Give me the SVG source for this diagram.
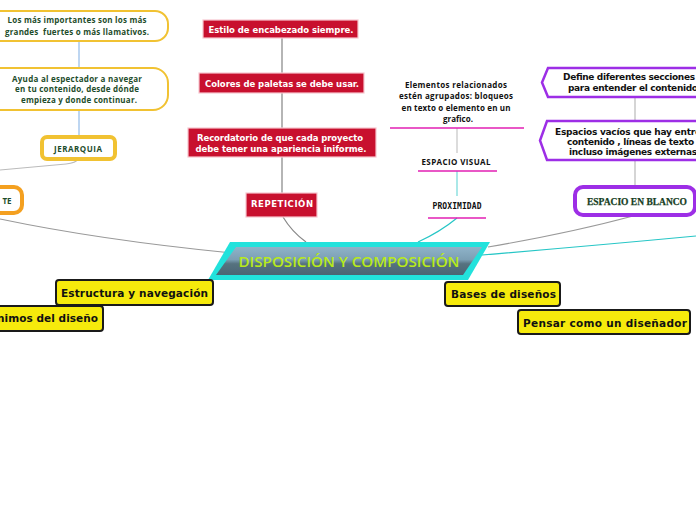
<svg xmlns="http://www.w3.org/2000/svg" width="696" height="520" viewBox="0 0 696 520">
<style>
.gold{fill:#fff;stroke:#f1c232}
.gtxt{font-family:"Open Sans","Noto Sans",sans-serif;font-weight:bold;font-size:8px;fill:#1e4d2b;text-anchor:middle}
.red{fill:#c8102e;stroke:#f7c6cf;stroke-width:1.2}
.rtxt{font-family:"DejaVu Sans",sans-serif;font-weight:bold;font-size:8.5px;fill:#fff;text-anchor:middle}
.btxt{font-family:"Open Sans","Noto Sans",sans-serif;font-weight:bold;font-size:8px;fill:#111;text-anchor:middle}
.mag{stroke:#e21fb3;stroke-width:1.5}
.pur{fill:#fff;stroke:#9d2ee6;stroke-width:2.5}
.ptxt{font-family:"DejaVu Sans",sans-serif;font-weight:bold;font-size:9px;fill:#111}
.yel{fill:#f6ea0c;stroke:#1a1a1a;stroke-width:2}
.ytxt{font-family:"DejaVu Sans",sans-serif;font-weight:bold;font-size:10.5px;fill:#111}
.c{fill:none}
</style>
<defs>
<linearGradient id="cg" x1="0" y1="0" x2="0" y2="1">
<stop offset="0" stop-color="#8fb3c9"/>
<stop offset="0.45" stop-color="#7c9fb4"/>
<stop offset="0.6" stop-color="#56727f"/>
<stop offset="1" stop-color="#4a6574"/>
</linearGradient>
</defs>
<rect width="696" height="520" fill="#fff"/>

<g id="connectors" class="c">
<line x1="79" y1="41" x2="79" y2="68" stroke="#a9c8ec" stroke-width="1.5"/>
<line x1="79" y1="110" x2="79" y2="136" stroke="#a9c8ec" stroke-width="1.5"/>
<path d="M78,159 Q76,163 66,164 L0,170" stroke="#bbb" stroke-width="1.2"/>
<path d="M0,219 Q100,240 232,253" stroke="#999" stroke-width="1.2"/>
<line x1="282" y1="38" x2="282" y2="73" stroke="#b5b5b5" stroke-width="2"/>
<line x1="282" y1="93" x2="282" y2="128" stroke="#b5b5b5" stroke-width="2"/>
<line x1="282" y1="157" x2="282" y2="193" stroke="#b5b5b5" stroke-width="2"/>
<path d="M283,217 Q292,232 306,242" stroke="#888" stroke-width="1.2"/>
<line x1="457" y1="128" x2="457" y2="153" stroke="#d0d0d0" stroke-width="1.5"/>
<line x1="457" y1="171" x2="457" y2="196" stroke="#8ee0e0" stroke-width="1.5"/>
<path d="M457,218 Q440,232 418,242" stroke="#26c6c6" stroke-width="1.2"/>
<line x1="635" y1="97" x2="635" y2="121" stroke="#d5d5d5" stroke-width="2"/>
<line x1="635" y1="160" x2="635" y2="186" stroke="#d5d5d5" stroke-width="2"/>
<path d="M633,216 Q570,233 488,247" stroke="#999" stroke-width="1.2"/>
<path d="M696,236 Q590,246 470,256" stroke="#26c6c6" stroke-width="1.2"/>
</g>

<g id="n-importantes">
<rect class="gold" x="-14" y="11" width="182" height="30" rx="13" stroke-width="2"/>
<text class="gtxt" x="77" y="23" textLength="139">Los más importantes son los más</text>
<text class="gtxt" x="77" y="35" textLength="144" xml:space="preserve">grandes  fuertes o más llamativos.</text>
</g>
<g id="n-ayuda">
<rect class="gold" x="-14" y="68" width="182" height="42" rx="15" stroke-width="2"/>
<text class="gtxt" x="77" y="82" textLength="130">Ayuda al espectador a navegar</text>
<text class="gtxt" x="77" y="92" textLength="124">en tu contenido, desde dónde</text>
<text class="gtxt" x="79" y="103" textLength="116">empieza y donde continuar.</text>
</g>
<g id="n-jerarquia">
<rect class="gold" x="42" y="137" width="73" height="22" rx="5" stroke-width="4"/>
<text class="gtxt" x="78" y="152" font-size="9px" textLength="48">JERARQUIA</text>
</g>
<g id="n-te">
<rect x="-30" y="187" width="52" height="26" rx="8" fill="#fff" stroke="#f4a020" stroke-width="4"/>
<text class="gtxt" x="7" y="204">TE</text>
</g>

<g id="n-estilo">
<rect class="red" x="203" y="20" width="155" height="18"/>
<text class="rtxt" x="281" y="33" textLength="145">Estilo de encabezado siempre.</text>
</g>
<g id="n-colores">
<rect class="red" x="199" y="73" width="165" height="20"/>
<text class="rtxt" x="282" y="87" textLength="154">Colores de paletas se debe usar.</text>
</g>
<g id="n-recordatorio">
<rect class="red" x="188" y="128" width="188" height="29"/>
<text class="rtxt" x="280" y="141" textLength="166">Recordatorio de que cada proyecto</text>
<text class="rtxt" x="281" y="152" textLength="171">debe tener una apariencia iniforme.</text>
</g>
<g id="n-repeticion">
<rect class="red" x="246" y="193" width="71" height="24"/>
<text class="rtxt" x="282" y="207" textLength="62">REPETICIÓN</text>
</g>

<g id="n-elementos">
<text class="btxt" x="456" y="88" textLength="102">Elementos relacionados</text>
<text class="btxt" x="456" y="99" textLength="114">estén agrupados: bloqueos</text>
<text class="btxt" x="456" y="111" textLength="109">en texto o elemento en un</text>
<text class="btxt" x="458" y="122" textLength="30">grafico.</text>
<line class="mag" x1="390" y1="128" x2="524" y2="128"/>
</g>
<g id="n-espacio-visual">
<text class="btxt" x="456" y="165" textLength="69">ESPACIO VISUAL</text>
<line class="mag" x1="418" y1="171" x2="497" y2="171"/>
</g>
<g id="n-proximidad">
<text x="457" y="209" font-family="'DejaVu Sans Mono','Liberation Mono',monospace" font-weight="bold" font-size="8px" fill="#111" text-anchor="middle" textLength="49">PROXIMIDAD</text>
<line class="mag" x1="428" y1="218" x2="486" y2="218"/>
</g>

<g id="n-define">
<polygon class="pur" points="548,68 710,68 710,97 548,97 542,82.5"/>
<text class="ptxt" x="563" y="80" textLength="132">Define diferentes secciones</text>
<text class="ptxt" x="568" y="91" textLength="130">para entender el contenido</text>
</g>
<g id="n-espacios">
<polygon class="pur" points="547,121 712,121 712,160 547,160 540,140.5"/>
<text class="ptxt" x="555" y="135" textLength="146">Espacios vacíos que hay entre</text>
<text class="ptxt" x="567" y="145" textLength="133">contenido , líneas de texto ,</text>
<text class="ptxt" x="569" y="155" textLength="128">incluso imágenes externas</text>
</g>
<g id="n-espacio-blanco">
<rect x="575" y="187" width="120" height="28" rx="8" fill="#fff" stroke="#9d2ee6" stroke-width="4"/>
<text x="637" y="205" font-family="'Liberation Serif',serif" font-weight="bold" font-size="10px" fill="#163d22" stroke="#163d22" stroke-width="0.25" text-anchor="middle" textLength="100" lengthAdjust="spacingAndGlyphs">ESPACIO EN BLANCO</text>
</g>

<g id="n-central">
<polygon points="230,242 490,242 468,280 208,280" fill="#22e2dc"/>
<polygon points="236,247 482,247 463,275 216,275" fill="url(#cg)"/>
<text x="349" y="267" font-family="'Open Sans','Noto Sans',sans-serif" font-weight="600" font-size="14px" fill="#b8ea1a" text-anchor="middle" textLength="221" lengthAdjust="spacingAndGlyphs">DISPOSICIÓN Y COMPOSICIÓN</text>
</g>

<g id="n-estructura">
<rect class="yel" x="56" y="280" width="157" height="25" rx="3"/>
<text class="ytxt" x="61" y="297" textLength="147">Estructura y navegación</text>
</g>
<g id="n-minimos">
<rect class="yel" x="-10" y="306" width="113" height="25" rx="3"/>
<text class="ytxt" x="-3" y="322" textLength="101">nimos del diseño</text>
</g>
<g id="n-bases">
<rect class="yel" x="445" y="282" width="115" height="24" rx="3"/>
<text class="ytxt" x="451" y="298" textLength="105">Bases de diseños</text>
</g>
<g id="n-pensar">
<rect class="yel" x="518" y="310" width="172" height="24" rx="3"/>
<text class="ytxt" x="523" y="327" textLength="164">Pensar como un diseñador</text>
</g>
</svg>
